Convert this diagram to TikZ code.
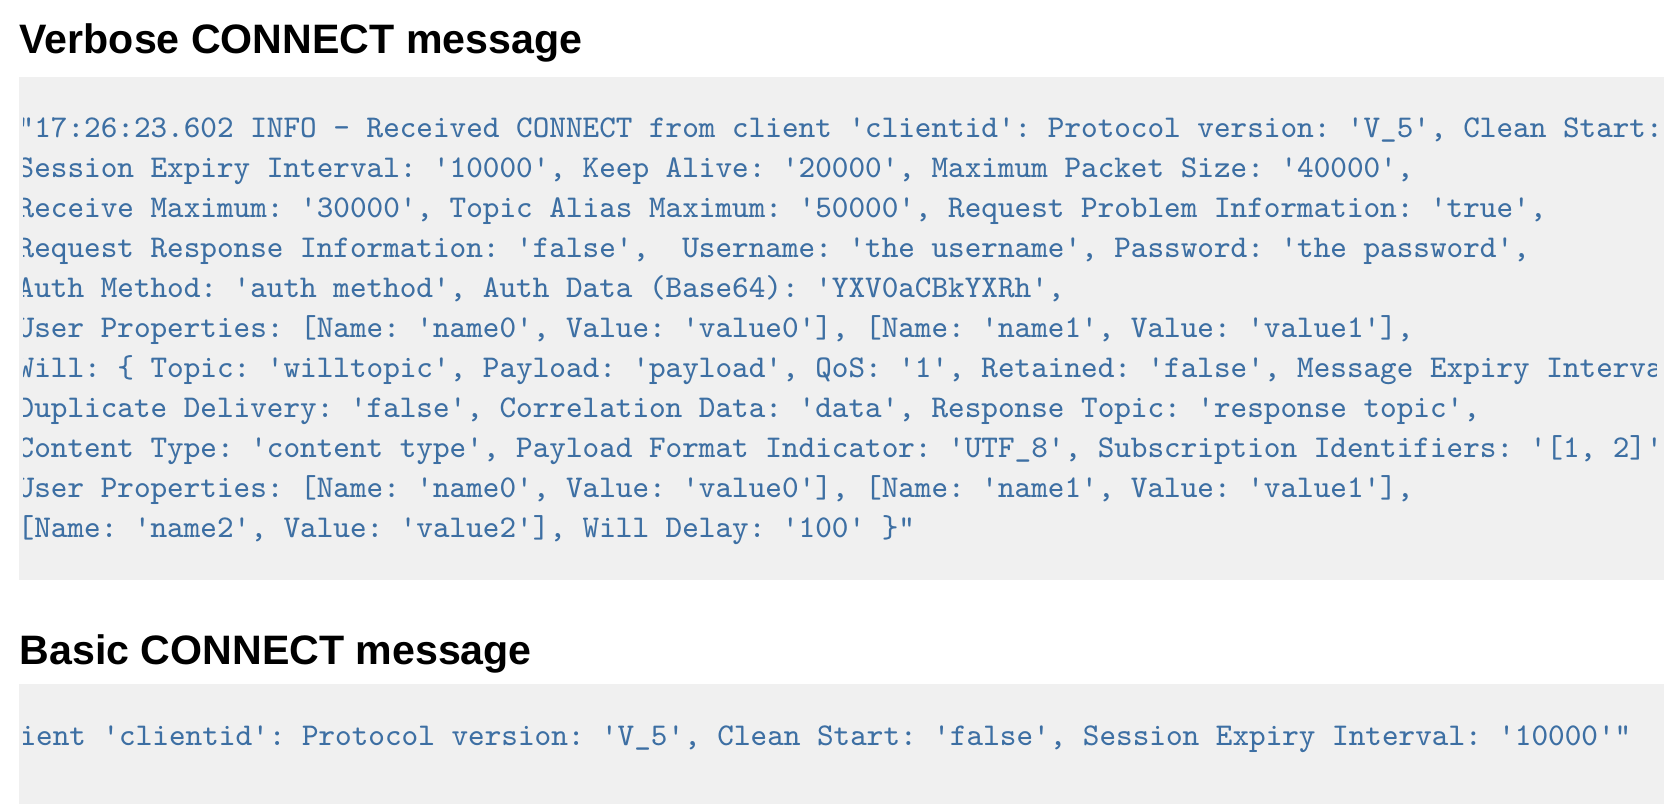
\documentclass[tikz,border=0pt]{standalone}
\usepackage{fontspec}
\setmainfont{Liberation Sans}
\definecolor{logblue}{HTML}{3D6FA3}
\definecolor{boxgray}{HTML}{F0F0F0}
\begin{document}
\begin{tikzpicture}[x=0.01cm, y=-0.01cm,
  title/.style = {anchor=base west, inner sep=0pt, font=\fontsize{11.7}{14}\selectfont\bfseries},
  logline/.style = {anchor=base west, inner sep=0pt, text=logblue, font=\fontsize{9}{10}\ttfamily\frenchspacing}]
\useasboundingbox (0,0) rectangle (1680,804);

\node[title] (t1) at (19,54) {Verbose CONNECT message};
\fill[boxgray] (19,77) rectangle (1664,580);
\begin{scope}
  \clip (23,77) rectangle (1656,580);
  \foreach \txt [count=\i] in {
    {"17:26:23.602 INFO - Received CONNECT from client 'clientid': Protocol version: 'V\_5', Clean Start: 'false',},
    {Session Expiry Interval: '10000', Keep Alive: '20000', Maximum Packet Size: '40000',},
    {Receive Maximum: '30000', Topic Alias Maximum: '50000', Request Problem Information: 'true',},
    {Request Response Information: 'false',\ \ Username: 'the username', Password: 'the password',},
    {Auth Method: 'auth method', Auth Data (Base64): 'YXV0aCBkYXRh',},
    {User Properties: [Name: 'name0', Value: 'value0'], [Name: 'name1', Value: 'value1'],},
    {Will: \{ Topic: 'willtopic', Payload: 'payload', QoS: '1', Retained: 'false', Message Expiry Interval: '10',},
    {Duplicate Delivery: 'false', Correlation Data: 'data', Response Topic: 'response topic',},
    {Content Type: 'content type', Payload Format Indicator: 'UTF\_8', Subscription Identifiers: '[1, 2]',},
    {User Properties: [Name: 'name0', Value: 'value0'], [Name: 'name1', Value: 'value1'],},
    {[Name: 'name2', Value: 'value2'], Will Delay: '100' \}"}}
    \node[logline] (l\i) at (17,{138+40*(\i-1)}) {\txt};
\end{scope}

\node[title] (t2) at (19,664) {Basic CONNECT message};
\fill[boxgray] (19,684) rectangle (1664,804);
\begin{scope}
  \clip (23,684) rectangle (1656,804);
  \node[logline, anchor=base east] (b1) at (1632,745) {Received CONNECT from client 'clientid': Protocol version: 'V\_5', Clean Start: 'false', Session Expiry Interval: '10000'"};
\end{scope}
\end{tikzpicture}
\end{document}
